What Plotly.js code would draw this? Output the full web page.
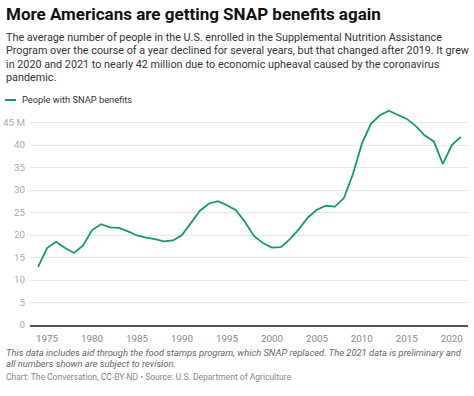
<!DOCTYPE html>
<html><head><meta charset="utf-8">
<script src="https://cdn.plot.ly/plotly-3.0.1.min.js"></script>
<style>html,body{margin:0;padding:0;background:#fff;}#chart{width:474px;height:396px;}</style>
</head><body><div id="chart"></div>
<script>
const years = [1974,1975,1976,1977,1978,1979,1980,1981,1982,1983,1984,1985,1986,1987,1988,1989,1990,1991,1992,1993,1994,1995,1996,1997,1998,1999,2000,2001,2002,2003,2004,2005,2006,2007,2008,2009,2010,2011,2012,2013,2014,2015,2016,2017,2018,2019,2020,2021];
const people = [12.9,17.1,18.5,17.1,16.0,17.7,21.1,22.4,21.7,21.6,20.8,19.9,19.4,19.1,18.6,18.8,20.0,22.6,25.4,27.0,27.5,26.6,25.5,22.9,19.8,18.2,17.2,17.3,19.1,21.3,23.9,25.6,26.5,26.3,28.2,33.5,40.3,44.7,46.6,47.6,46.7,45.8,44.2,42.1,40.8,35.8,40.0,41.8];
const yTickVals = [0,5,10,15,20,25,30,35,40,45];
const yTickText = ['0','5','10','15','20','25','30','35','40','45 M'];
const xTickVals = [1975,1980,1985,1990,1995,2000,2005,2010,2015,2020];
const seriesName = 'People with SNAP benefits';
const titleText = 'More Americans are getting SNAP benefits again';
const subtitleLines = [
 'The average number of people in the U.S. enrolled in the Supplemental Nutrition Assistance',
 'Program over the course of a year declined for several years, but that changed after 2019. It grew',
 'in 2020 and 2021 to nearly 42 million due to economic upheaval caused by the coronavirus',
 'pandemic.'
];
const noteLines = [
 'This data includes aid through the food stamps program, which SNAP replaced. The 2021 data is preliminary and',
 'all numbers shown are subject to revision.'
];
const sourceText = 'Chart: The Conversation, CC-BY-ND \u2022 Source: U.S. Department of Agriculture';

const W=474,H=396,ML=30,MR=6,MT=109,MB=71;
const PW=W-ML-MR, PH=H-MT-MB;
const px=x=>(x-ML)/PW, py=y=>(H-MB-y)/PH;
const green='#16996a';
const ann=[];
ann.push({text:'<b>'+titleText+'</b>',x:px(4),y:py(14),xref:'paper',yref:'paper',xanchor:'left',yanchor:'middle',showarrow:false,font:{family:'Roboto',size:17,color:'#111'}});
const subY=[37,50.5,64,77.5];
subtitleLines.forEach((t,i)=>ann.push({text:t,x:px(4),y:py(subY[i]),xref:'paper',yref:'paper',xanchor:'left',yanchor:'middle',showarrow:false,font:{family:'Roboto',size:10.8,color:'#333'}}));
ann.push({text:seriesName,x:px(20),y:py(100),xref:'paper',yref:'paper',xanchor:'left',yanchor:'middle',showarrow:false,font:{family:'Roboto',size:9.3,color:'#333'}});
const noteY=[352,363.5];
noteLines.forEach((t,i)=>ann.push({text:'<i>'+t+'</i>',x:px(4),y:py(noteY[i]),xref:'paper',yref:'paper',xanchor:'left',yanchor:'middle',showarrow:false,font:{family:'Roboto',size:9.4,color:'#666'}}));
ann.push({text:sourceText,x:px(4),y:py(377),xref:'paper',yref:'paper',xanchor:'left',yanchor:'middle',showarrow:false,font:{family:'Roboto',size:8.5,color:'#888'}});

const data=[{x:years,y:people,type:'scatter',mode:'lines',name:seriesName,line:{color:green,width:1.8},hoverinfo:'skip'}];
const layout={
 width:W,height:H,margin:{l:ML,r:MR,t:MT,b:MB,pad:0},
 paper_bgcolor:'#fff',plot_bgcolor:'#fff',showlegend:false,
 font:{family:'Roboto'},
 xaxis:{range:[1973.1,2021.8],tickvals:xTickVals,showgrid:false,zeroline:false,showline:true,linecolor:'#555',linewidth:1.5,ticks:'',tickfont:{size:9.8,color:'#888'},ticklabelstandoff:4},
 yaxis:{range:[0,48],tickvals:yTickVals,ticktext:yTickText,showgrid:true,gridcolor:'#e8e8e8',gridwidth:1,zeroline:false,showline:false,ticks:'',tickfont:{size:9.8,color:'#aaa'},ticklabelstandoff:4},
 shapes:[{type:'line',xref:'paper',yref:'paper',x0:px(5),x1:px(16),y0:py(100),y1:py(100),line:{color:green,width:2}}],
 annotations:ann
};
Plotly.newPlot('chart',data,layout,{staticPlot:true,displayModeBar:false});
</script></body></html>
